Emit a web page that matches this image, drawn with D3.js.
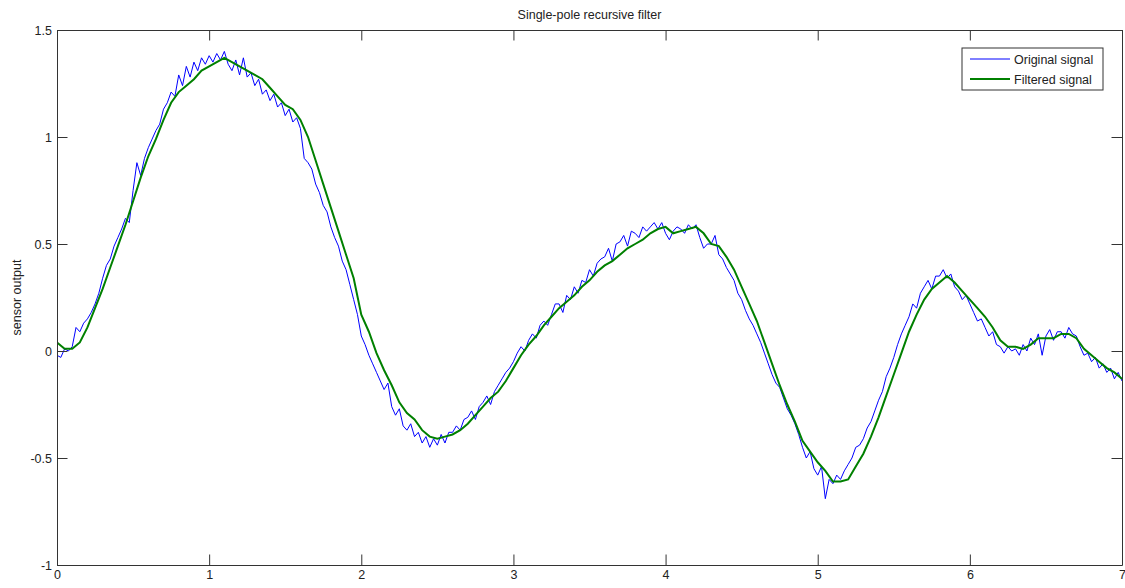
<!DOCTYPE html>
<html><head><meta charset="utf-8">
<script src="https://cdn.jsdelivr.net/npm/d3@7"></script>
<style>
html,body{margin:0;padding:0;background:#fff;}
svg{display:block;}
text{font-family:"Liberation Sans",Arial,sans-serif;fill:#222;}
</style></head>
<body>
<svg id="chart" width="1125" height="588"></svg>
<script>
// ---- data ----
const title = "Single-pole recursive filter";
const yLabel = "sensor output";
const seriesNames = ["Original signal", "Filtered signal"];
const xTicks = [0, 1, 2, 3, 4, 5, 6, 7];
const yTicks = [-1, -0.5, 0, 0.5, 1, 1.5];
const originalStep = 0.025; // sample spacing of the original signal (s)
const originalValues = [
 -0.02,-0.03,0.01,0.00, 0.02,0.11,0.09,0.13, 0.15,0.18,0.22,0.27, 0.34,0.40,0.43,0.49,
 0.53,0.57,0.62,0.60, 0.75,0.88,0.82,0.90, 0.95,0.99,1.03,1.06, 1.13,1.16,1.21,1.19,
 1.29,1.24,1.33,1.28, 1.35,1.31,1.37,1.34, 1.38,1.35,1.39,1.36, 1.40,1.34,1.31,1.36,
 1.29,1.37,1.28,1.30, 1.24,1.27,1.20,1.22, 1.17,1.20,1.14,1.16, 1.10,1.13,1.07,1.09,
 1.04,0.90,0.88,0.85, 0.78,0.74,0.68,0.65, 0.58,0.53,0.49,0.42, 0.38,0.31,0.24,0.17,
 0.07,0.03,-0.02,-0.06, -0.10,-0.14,-0.18,-0.15, -0.26,-0.30,-0.27,-0.35, -0.37,-0.34,-0.40,-0.38,
 -0.43,-0.40,-0.45,-0.41, -0.44,-0.39,-0.43,-0.38, -0.38,-0.35,-0.37,-0.32, -0.31,-0.28,-0.32,-0.26,
 -0.24,-0.21,-0.25,-0.19, -0.16,-0.13,-0.10,-0.08, -0.05,-0.01,0.02,0.00, 0.05,0.08,0.06,0.12,
 0.14,0.12,0.17,0.22, 0.22,0.18,0.26,0.24, 0.30,0.27,0.33,0.32, 0.38,0.35,0.41,0.43,
 0.44,0.48,0.42,0.50, 0.51,0.54,0.49,0.56, 0.55,0.53,0.58,0.56, 0.58,0.60,0.57,0.60,
 0.55,0.52,0.56,0.58, 0.57,0.55,0.59,0.57, 0.59,0.53,0.48,0.50, 0.50,0.54,0.45,0.43,
 0.39,0.36,0.33,0.27, 0.24,0.19,0.15,0.12, 0.08,0.04,-0.01,-0.06, -0.11,-0.15,-0.17,-0.22,
 -0.27,-0.30,-0.34,-0.39, -0.45,-0.50,-0.47,-0.55, -0.58,-0.54,-0.69,-0.60, -0.62,-0.58,-0.60,-0.56,
 -0.53,-0.50,-0.45,-0.44, -0.41,-0.36,-0.33,-0.28, -0.23,-0.19,-0.12,-0.08, -0.03,0.03,0.08,0.12,
 0.16,0.22,0.20,0.27, 0.30,0.33,0.29,0.35, 0.35,0.38,0.34,0.36, 0.30,0.28,0.24,0.26,
 0.22,0.18,0.14,0.15, 0.11,0.07,0.09,0.03, 0.02,-0.01,0.02,0.00, 0.01,-0.02,0.03,0.00,
 0.06,0.03,0.08,-0.02, 0.07,0.10,0.05,0.09, 0.09,0.06,0.11,0.08, 0.07,0.02,-0.02,-0.01,
 -0.05,-0.03,-0.08,-0.06, -0.10,-0.08,-0.13,-0.10, -0.14
];
const filteredStep = 0.05; // sample spacing of the filtered signal (s)
const filteredValues = [
 0.04,0.01,0.01,0.04,0.11,0.20,0.29,0.39,0.49,0.59,
 0.70,0.81,0.91,0.99,1.08,1.16,1.21,1.24,1.27,1.31,
 1.33,1.35,1.37,1.35,1.33,1.31,1.29,1.27,1.23,1.19,
 1.15,1.13,1.08,1.00,0.89,0.78,0.67,0.56,0.45,0.34,
 0.17,0.09,-0.01,-0.09,-0.16,-0.24,-0.29,-0.32,-0.37,-0.40,
 -0.41,-0.40,-0.39,-0.37,-0.34,-0.30,-0.26,-0.22,-0.19,-0.14,
 -0.08,-0.02,0.03,0.07,0.12,0.16,0.20,0.23,0.26,0.30,
 0.33,0.37,0.40,0.42,0.45,0.48,0.50,0.52,0.55,0.57,
 0.58,0.55,0.56,0.57,0.58,0.55,0.50,0.49,0.44,0.38,
 0.30,0.22,0.14,0.04,-0.06,-0.16,-0.25,-0.33,-0.42,-0.47,
 -0.52,-0.56,-0.61,-0.61,-0.60,-0.54,-0.48,-0.40,-0.31,-0.21,
 -0.11,-0.01,0.09,0.17,0.24,0.29,0.32,0.35,0.32,0.28,
 0.24,0.20,0.16,0.11,0.05,0.02,0.02,0.01,0.03,0.06,
 0.06,0.06,0.08,0.08,0.06,0.01,-0.02,-0.05,-0.08,-0.10,
 -0.13
];

// ---- layout ----
const svg = d3.select("#chart");
const L = 57, R = 1122, T = 30, B = 565;
const x = d3.scaleLinear().domain([0, 7]).range([L, R]);
const y = d3.scaleLinear().domain([-1, 1.5]).range([B, T]);
const tickLen = 10.5;
const axisColor = "#333";
const fontSize = "12.5px";

const origData = originalValues.map((v, i) => [i * originalStep, v]);
const filtData = filteredValues.map((v, i) => [i * filteredStep, v]);

const line = d3.line().x(d => x(d[0])).y(d => y(d[1]));

svg.append("defs").append("clipPath").attr("id", "clip")
  .append("rect").attr("x", L).attr("y", T).attr("width", R - L).attr("height", B - T);

const g = svg.append("g").attr("clip-path", "url(#clip)");
g.append("path").datum(origData).attr("d", line)
  .attr("fill", "none").attr("stroke", "#0000ff").attr("stroke-width", 1);
g.append("path").datum(filtData).attr("d", line)
  .attr("fill", "none").attr("stroke", "#008000").attr("stroke-width", 2);

// axes (MATLAB style, ticks inward on all sides)
function styleAxis(sel) {
  sel.select(".domain").attr("stroke", axisColor);
  sel.selectAll(".tick line").attr("stroke", axisColor);
  sel.selectAll(".tick text").attr("fill", "#222").style("font-size", fontSize)
    .style("font-family", '"Liberation Sans", Arial, sans-serif');
}
const fmt = d => String(d);
const xb = svg.append("g").attr("transform", `translate(0,${B})`)
  .call(d3.axisBottom(x).tickValues(xTicks).tickFormat(fmt).tickSizeInner(-tickLen).tickSizeOuter(0).tickPadding(5));
styleAxis(xb);
const xt = svg.append("g").attr("transform", `translate(0,${T})`)
  .call(d3.axisTop(x).tickValues(xTicks).tickFormat("").tickSizeInner(-tickLen).tickSizeOuter(0));
styleAxis(xt);
const yl = svg.append("g").attr("transform", `translate(${L},0)`)
  .call(d3.axisLeft(y).tickValues(yTicks).tickFormat(fmt).tickSizeInner(-tickLen).tickSizeOuter(0).tickPadding(5));
styleAxis(yl);
const yr = svg.append("g").attr("transform", `translate(${R},0)`)
  .call(d3.axisRight(y).tickValues(yTicks).tickFormat("").tickSizeInner(-tickLen).tickSizeOuter(0));
styleAxis(yr);

// title and label
svg.append("text").attr("x", (L + R) / 2).attr("y", 19).attr("text-anchor", "middle")
  .style("font-size", fontSize).text(title);
svg.append("text").attr("transform", `translate(21,${(T + B) / 2}) rotate(-90)`)
  .attr("text-anchor", "middle").style("font-size", fontSize).text(yLabel);

// legend
const lg = svg.append("g");
lg.append("rect").attr("x", 962).attr("y", 48).attr("width", 141).attr("height", 42)
  .attr("fill", "#fff").attr("stroke", axisColor).attr("stroke-width", 1);
const legColors = ["#0000ff", "#008000"], legWidths = [1, 2];
seriesNames.forEach((name, i) => {
  const yy = 59 + i * 20;
  lg.append("line").attr("x1", 970).attr("x2", 1010).attr("y1", yy).attr("y2", yy)
    .attr("stroke", legColors[i]).attr("stroke-width", legWidths[i]);
  lg.append("text").attr("x", 1014).attr("y", yy + 4.5).style("font-size", fontSize).text(name);
});
</script>
</body></html>
